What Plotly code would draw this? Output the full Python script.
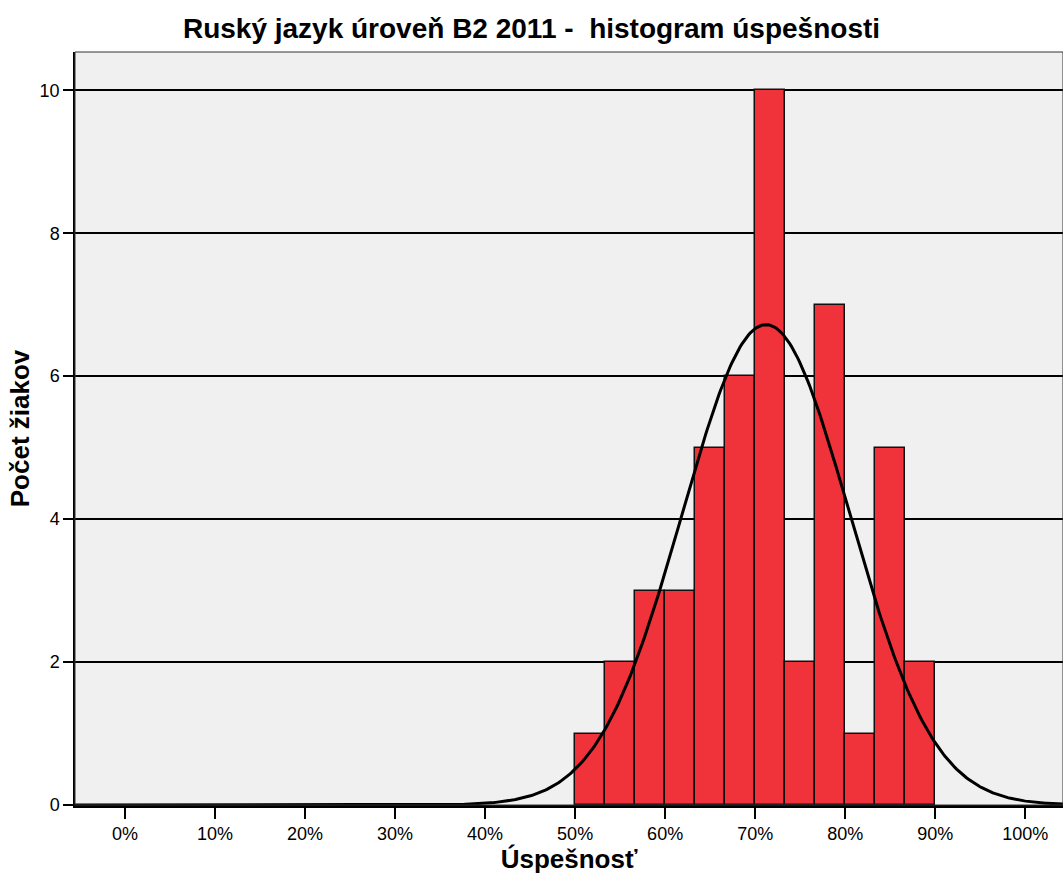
import numpy as np
import plotly.graph_objects as go

# Data
bin_starts = [50.0, 53.333, 56.667, 60.0, 63.333, 66.667, 70.0, 73.333, 76.667, 80.0, 83.333, 86.667]
counts = [1, 2, 3, 3, 5, 6, 10, 2, 7, 1, 5, 2]
bin_width = 3.3333
fit_mean = 71.2
fit_sd = 9.3
x_tick_vals = [0, 10, 20, 30, 40, 50, 60, 70, 80, 90, 100]
x_tick_text = [f"{v}%" for v in x_tick_vals]
y_tick_vals = [0, 2, 4, 6, 8, 10]

n_total = sum(counts)
centers = [s + bin_width / 2 for s in bin_starts]

xs = np.linspace(-5.6, 104.3, 600)
ys = n_total * bin_width / (fit_sd * np.sqrt(2 * np.pi)) * np.exp(-0.5 * ((xs - fit_mean) / fit_sd) ** 2)

FONT = "Arial, 'Liberation Sans', sans-serif"

fig = go.Figure()
fig.add_trace(go.Bar(
    x=centers, y=counts, width=[bin_width] * len(counts),
    marker=dict(color="#F0323A", line=dict(color="#111111", width=1.5)),
    hoverinfo="x+y", showlegend=False,
))
fig.add_trace(go.Scatter(
    x=xs, y=ys, mode="lines", line=dict(color="black", width=3),
    hoverinfo="skip", showlegend=False,
))

fig.update_layout(
    width=1063, height=878,
    margin=dict(l=75, r=0, t=52, b=73),
    paper_bgcolor="white", plot_bgcolor="#F0F0F0",
    bargap=0,
    font=dict(family=FONT, size=18, color="black"),
    title=dict(text="<b>Ruský jazyk úroveň B2 2011 -  histogram úspešnosti</b>",
               x=0.5, xanchor="center", y=0.968, yanchor="middle",
               font=dict(size=28, family=FONT, color="black")),
    xaxis=dict(range=[-5.56, 104.2], tickvals=x_tick_vals, ticktext=x_tick_text,
               showgrid=False, zeroline=False, ticks="outside", ticklen=11,
               tickwidth=2, tickcolor="black", showline=True, linecolor="black",
               linewidth=2.5, tickfont=dict(size=18),
               title=dict(text="<b>Úspešnosť</b>", font=dict(size=26), standoff=4)),
    yaxis=dict(range=[0, 10.535], tickvals=y_tick_vals, showgrid=True,
               gridcolor="black", gridwidth=1.5, zeroline=False,
               ticks="outside", ticklen=10, tickwidth=1.5, tickcolor="black",
               showline=True, linecolor="black", linewidth=1.5,
               tickfont=dict(size=18),
               title=dict(text="<b>Počet žiakov</b>", font=dict(size=26), standoff=3)),
    shapes=[dict(type="rect", xref="paper", yref="paper", x0=0, x1=1, y0=0, y1=1,
                 line=dict(color="#333333", width=1), layer="above")],
)

fig.write_html("out.html", config={"displayModeBar": False},
               post_script="document.body.style.margin='0';document.body.style.overflow='hidden';")
